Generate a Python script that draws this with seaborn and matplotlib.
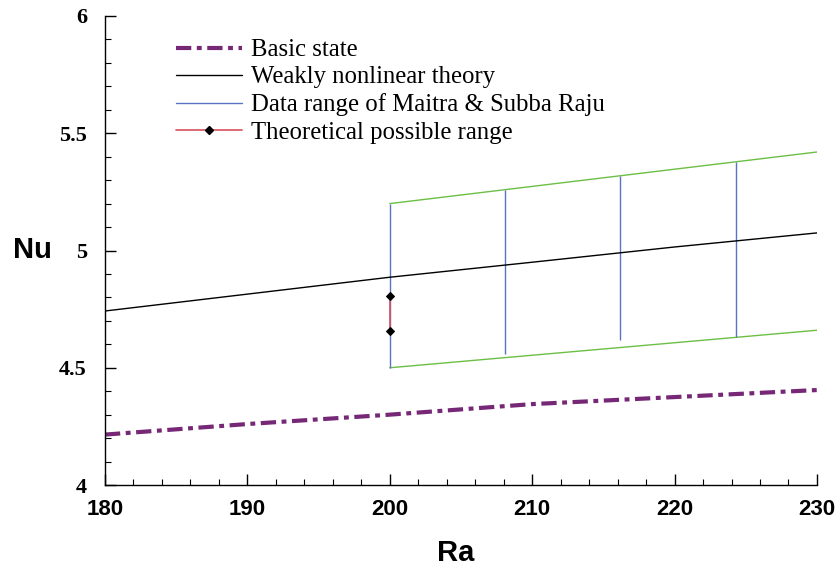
import matplotlib
matplotlib.use("Agg")
import matplotlib.pyplot as plt
from matplotlib.lines import Line2D
import seaborn as sns
import pandas as pd

# ---- data ----
basic_ra = [180, 190, 200, 210, 220, 230]
basic_nu = [4.215, 4.26, 4.30, 4.345, 4.375, 4.405]

weak_ra = [180, 200, 210, 220, 230]
weak_nu = [4.742, 4.886, 4.95, 5.015, 5.075]

upper_ra = [200, 230]
upper_nu = [5.20, 5.42]
lower_ra = [200, 230]
lower_nu = [4.50, 4.66]

range_ra = [200, 208.1, 216.2, 224.3]
range_low = [4.50, 4.559, 4.618, 4.630]
range_high = [5.20, 5.259, 5.319, 5.378]

theory_ra = [200, 200]
theory_nu = [4.658, 4.807]

x_ticks = [180, 190, 200, 210, 220, 230]
y_ticks = [4, 4.5, 5, 5.5, 6]
y_tick_labels = ["4", "4.5", "5", "5.5", "6"]

PURPLE = "#762877"
BLUE = "#5a72c4"
GREEN = "#6cbf45"
RED = "#d9505e"

sns.set_style("ticks")
plt.rcParams["lines.scale_dashes"] = False
plt.rcParams["text.color"] = "black"

fig = plt.figure(figsize=(8.35, 5.69), dpi=100)
ax = fig.add_axes([0.1257, 0.1476, 0.8527, 0.8243])

df_basic = pd.DataFrame({"Ra": basic_ra, "Nu": basic_nu})
df_weak = pd.DataFrame({"Ra": weak_ra, "Nu": weak_nu})
df_up = pd.DataFrame({"Ra": upper_ra, "Nu": upper_nu})
df_lo = pd.DataFrame({"Ra": lower_ra, "Nu": lower_nu})
df_th = pd.DataFrame({"Ra": theory_ra, "Nu": theory_nu})

sns.lineplot(data=df_up, x="Ra", y="Nu", ax=ax, color=GREEN, lw=1.0, estimator=None, sort=False)
sns.lineplot(data=df_lo, x="Ra", y="Nu", ax=ax, color=GREEN, lw=1.0, estimator=None, sort=False)
ax.vlines(range_ra, range_low, range_high, colors=BLUE, lw=1.0)
sns.lineplot(data=df_weak, x="Ra", y="Nu", ax=ax, color="black", lw=1.0, estimator=None)
sns.lineplot(data=df_basic, x="Ra", y="Nu", ax=ax, color=PURPLE, lw=3.0,
             estimator=None, dashes=False)
ax.lines[-1].set_dashes([11, 4, 3.5, 4])
sns.lineplot(data=df_th, x="Ra", y="Nu", ax=ax, color=RED, lw=1.2, estimator=None, sort=False,
             marker="D", markersize=4.5, markerfacecolor="black", markeredgecolor="black")

ax.set_xlim(180, 230)
ax.set_ylim(4, 6)
ax.set_xticks(x_ticks)
ax.set_xticks(range(180, 231, 2), minor=True)
ax.set_yticks(y_ticks)
ax.set_yticklabels(y_tick_labels)
ax.set_yticks([4 + 0.1 * i for i in range(21)], minor=True)

for s in ["top", "right"]:
    ax.spines[s].set_visible(False)
for s in ["left", "bottom"]:
    ax.spines[s].set_linewidth(1.0)
    ax.spines[s].set_color("black")

ax.tick_params(which="major", direction="in", length=8, width=1.0, colors="black")
ax.tick_params(which="minor", direction="in", length=4.5, width=0.8, colors="black")
ax.tick_params(axis="x", which="major", pad=10)
ax.tick_params(axis="y", which="major", pad=13)

for lbl in ax.get_xticklabels():
    lbl.set_fontfamily("Liberation Sans")
    lbl.set_fontweight("bold")
    lbl.set_fontsize(16)
for lbl in ax.get_yticklabels():
    lbl.set_fontfamily("Liberation Serif")
    lbl.set_fontweight("bold")
    lbl.set_fontsize(16)

ax.set_xlabel("Ra", fontfamily="Liberation Sans", fontweight="bold", fontsize=21, va="center",
              color="black")
ax.set_ylabel("Nu", fontfamily="Liberation Sans", fontweight="bold", fontsize=21, rotation=0,
              ha="center", va="center", color="black")
ax.xaxis.set_label_coords((456 - 105) / 712, -(553 - 485) / 469)
ax.yaxis.set_label_coords((32 - 105) / 712, (485 - 250) / 469)

handles = [
    Line2D([0], [0], color=PURPLE, lw=3.0, dashes=[11, 4, 3.5, 4]),
    Line2D([0], [0], color="black", lw=1.0),
    Line2D([0], [0], color=BLUE, lw=1.0),
    Line2D([0], [0], color=RED, lw=1.2, marker="D", markersize=4.5,
           markerfacecolor="black", markeredgecolor="black"),
]
labels = ["Basic state", "Weakly nonlinear theory",
          "Data range of Maitra & Subba Raju", "Theoretical possible range"]
leg = ax.legend(handles, labels, loc="upper left",
                bbox_to_anchor=((176 - 105) / 712 - 0.007, (485 - 34) / 469),
                frameon=False, prop={"family": "Liberation Serif", "size": 17.8},
                handlelength=2.67, handletextpad=0.36, labelspacing=0.2,
                borderaxespad=0, borderpad=0.2, labelcolor="black")

fig.savefig("out.png", dpi=100)
